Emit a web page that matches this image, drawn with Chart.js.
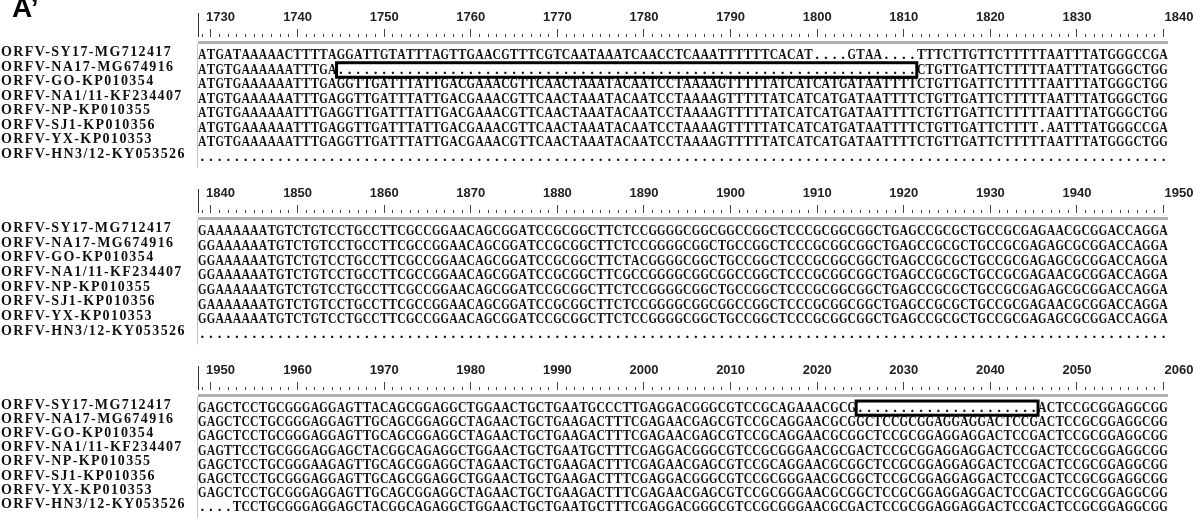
<!DOCTYPE html>
<html>
<head>
<meta charset="utf-8">
<script src="https://cdn.jsdelivr.net/npm/chart.js@4.4.1/dist/chart.umd.min.js"></script>
<style>
  html, body { margin: 0; padding: 0; background: #ffffff; }
  #wrap { position: relative; width: 1203px; height: 526px; overflow: hidden; background: #ffffff; }
  canvas { position: absolute; left: 0; }
  #tag { position: absolute; left: 12px; top: -6px; font: bold 28px "Liberation Sans", Arial, sans-serif; line-height: 28px; color: #000; }
</style>
</head>
<body>
<div id="wrap">
  <canvas id="c0" width="1203" height="176" style="top:0px"></canvas>
  <canvas id="c1" width="1203" height="177" style="top:176px"></canvas>
  <canvas id="c2" width="1203" height="173" style="top:353px"></canvas>
  <div id="tag">A’</div>
</div>
<script>
// ---------------- data ----------------
const rowNames = [
  "ORFV-SY17-MG712417",
  "ORFV-NA17-MG674916",
  "ORFV-GO-KP010354",
  "ORFV-NA1/11-KF234407",
  "ORFV-NP-KP010355",
  "ORFV-SJ1-KP010356",
  "ORFV-YX-KP010353",
  "ORFV-HN3/12-KY053526"
];
const blockStarts = [1730, 1840, 1950];      // first labelled ruler position of each block
const rulerLabels = [
  [1730, 1740, 1750, 1760, 1770, 1780, 1790, 1800, 1810, 1820, 1830, 1840],
  [1840, 1850, 1860, 1870, 1880, 1890, 1900, 1910, 1920, 1930, 1940, 1950],
  [1950, 1960, 1970, 1980, 1990, 2000, 2010, 2020, 2030, 2040, 2050, 2060]
];
const gap = n => ".".repeat(n);   // alignment gap characters

const seqBlock1 = [
  "ATGATA" + "AAAACTTTTAGGATTGTATTTAGTTGAACGTTTCGTCA" + "ATAAATCAACCTCAAATTTTTTCACAT" + "....GTAA" + "...." + "TTTCTTGTTCTTTTTAATTTATGGGCCGA",
  "ATGTGAAAAAATTTGA" + gap(67) + "CTGTTGATTCTTTTTAATTTATGGGCTGG",
  "ATGTGA" + "AAAAATTTGAGGTTGATTTATTGACGAAACGTTCAACT" + "AAATACAATCCTAAAAGTTTTTATCATCATGATAATT" + "TT" + "CTGTTGATTCTTTTTAATTTATGGGCTGG",
  "ATGTGA" + "AAAAATTTGAGGTTGATTTATTGACGAAACGTTCAACT" + "AAATACAATCCTAAAAGTTTTTATCATCATGATAATT" + "TT" + "CTGTTGATTCTTTTTAATTTATGGGCTGG",
  "ATGTGA" + "AAAAATTTGAGGTTGATTTATTGACGAAACGTTCAACT" + "AAATACAATCCTAAAAGTTTTTATCATCATGATAATT" + "TT" + "CTGTTGATTCTTTTTAATTTATGGGCTGG",
  "ATGTGA" + "AAAAATTTGAGGTTGATTTATTGACGAAACGTTCAACT" + "AAATACAATCCTAAAAGTTTTTATCATCATGATAATT" + "TT" + "CTGTTGATTCTTTT.AATTTATGGGCCGA",
  "ATGTGA" + "AAAAATTTGAGGTTGATTTATTGACGAAACGTTCAACT" + "AAATACAATCCTAAAAGTTTTTATCATCATGATAATT" + "TT" + "CTGTTGATTCTTTTTAATTTATGGGCTGG",
  gap(112)
];
const seqBlock2 = [
  "GAAAAAAA" + "TGTCTGTCCTGCCTTCGCCGGAACAGCGGATCCGCG" + "GCTTCTCCGGGGCGGCGGCCGGCTCCCGCGGCGGCTG" + "AGCCGCGCTGCCGCGAGAACGCGGACCAGGA",
  "GGAAAAAA" + "TGTCTGTCCTGCCTTCGCCGGAACAGCGGATCCGCG" + "GCTTCTCCGGGGCGGCTGCCGGCTCCCGCGGCGGCTG" + "AGCCGCGCTGCCGCGAGAGCGCGGACCAGGA",
  "GGAAAAAA" + "TGTCTGTCCTGCCTTCGCCGGAACAGCGGATCCGCG" + "GCTTCTACGGGGCGGCTGCCGGCTCCCGCGGCGGCTG" + "AGCCGCGCTGCCGCGAGAGCGCGGACCAGGA",
  "GGAAAAAA" + "TGTCTGTCCTGCCTTCGCCGGAACAGCGGATCCGCG" + "GCTTCGCCGGGGCGGCGGCCGGCTCCCGCGGCGGCTG" + "AGCCGCGCTGCCGCGAGAACGCGGACCAGGA",
  "GGAAAAAA" + "TGTCTGTCCTGCCTTCGCCGGAACAGCGGATCCGCG" + "GCTTCTCCGGGGCGGCTGCCGGCTCCCGCGGCGGCTG" + "AGCCGCGCTGCCGCGAGAGCGCGGACCAGGA",
  "GAAAAAAA" + "TGTCTGTCCTGCCTTCGCCGGAACAGCGGATCCGCG" + "GCTTCTCCGGGGCGGCGGCCGGCTCCCGCGGCGGCTG" + "AGCCGCGCTGCCGCGAGAACGCGGACCAGGA",
  "GGAAAAAA" + "TGTCTGTCCTGCCTTCGCCGGAACAGCGGATCCGCG" + "GCTTCTCCGGGGCGGCTGCCGGCTCCCGCGGCGGCTG" + "AGCCGCGCTGCCGCGAGAGCGCGGACCAGGA",
  gap(112)
];
const seqBlock3 = [
  "GAGCTC" + "CTGCGGGAGGAGTTACAGCGGAGGCTGGAACTGCTGAA" + "TGCCCTTGAGGACGGGCGTCCGCAGAAACGCG" + gap(21) + "ACTCCGCGGAGGCGG",
  "GAGCTC" + "CTGCGGGAGGAGTTGCAGCGGAGGCTAGAACTGCTGAA" + "GACTTTCGAGAACGAGCGTCCGCAGGAACGCGGCTCC" + "GCGGAGGAGGACTCCGACTCCGCGGAGGCGG",
  "GAGCTC" + "CTGCGGGAGGAGTTGCAGCGGAGGCTAGAACTGCTGAA" + "GACTTTCGAGAACGAGCGTCCGCAGGAACGCGGCTCC" + "GCGGAGGAGGACTCCGACTCCGCGGAGGCGG",
  "GAGTTC" + "CTGCGGGAGGAGCTACGGCAGAGGCTGGAACTGCTGAA" + "TGCTTTCGAGGACGGGCGTCCGCGGGAACGCGACTCC" + "GCGGAGGAGGACTCCGACTCCGCGGAGGCGG",
  "GAGCTC" + "CTGCGGGAAGAGTTGCAGCGGAGGCTAGAACTGCTGAA" + "GACTTTCGAGAACGAGCGTCCGCAGGAACGCGGCTCC" + "GCGGAGGAGGACTCCGACTCCGCGGAGGCGG",
  "GAGCTC" + "CTGCGGGAGGAGTTGCAGCGGAGGCTGGAACTGCTGAA" + "GACTTTCGAGGACGGGCGTCCGCGGGAACGCGGCTCC" + "GCGGAGGAGGACTCCGACTCCGCGGAGGCGG",
  "GAGCTC" + "CTGCGGGAGGAGTTGCAGCGGAGGCTAGAACTGCTGAA" + "GACTTTCGAGAACGAGCGTCCGCGGGAACGCGGCTCC" + "GCGGAGGAGGACTCCGACTCCGCGGAGGCGG",
  "....TC" + "CTGCGGGAGGAGCTACGGCAGAGGCTGGAACTGCTGAA" + "TGCTTTCGAGGACGGGCGTCCGCGGGAACGCGACTCC" + "GCGGAGGAGGACTCCGACTCCGCGGAGGCGG"
];
const seqBlocks = [seqBlock1, seqBlock2, seqBlock3];
// boxed deletion regions: block index, row index, first and last position inside the box
const gapBoxBlock = [0, 2];
const gapBoxRow   = [1, 0];
const gapBoxFrom  = [1745, 2025];
const gapBoxTo    = [1811, 2045];

// ---------------- custom scales ----------------
class SeqLabelScale extends Chart.LinearScale {
  drawLabels(area) {
    const c = this.ctx;
    c.save();
    c.letterSpacing = '1.4px';
    super.drawLabels(area);
    c.restore();
  }
}
SeqLabelScale.id = 'seqLabels';
SeqLabelScale.defaults = Chart.LinearScale.defaults;

// ruler: first label starts just right of the panel edge, last label runs past its tick
class RulerScale extends Chart.LinearScale {
  _computeLabelItems(area) {
    const items = super._computeLabelItems(area);
    const shown = items.filter(it => it.label !== '' && it.label != null);
    if (shown.length) {
      const first = shown[0], last = shown[shown.length - 1];
      first.options.textAlign = 'left';
      first.options.translation = [first.options.translation[0] - 5, first.options.translation[1]];
      last.options.textAlign = 'left';
      last.options.translation = [last.options.translation[0] + 1, last.options.translation[1]];
    }
    return items;
  }
}
RulerScale.id = 'ruler';
RulerScale.defaults = Chart.LinearScale.defaults;
Chart.register(SeqLabelScale, RulerScale);

const seqPlugin = {
  id: 'seqText',
  beforeDatasetsDraw(chart) {
    const ctx = chart.ctx, a = chart.chartArea;
    ctx.save();
    ctx.fillStyle = '#b0b0b0';
    ctx.fillRect(a.left, a.top + 4, a.right - a.left, 3);
    ctx.strokeStyle = '#333';
    ctx.lineWidth = 1;
    ctx.beginPath();
    ctx.moveTo(a.left + 0.5, a.top - 24);
    ctx.lineTo(a.left + 0.5, a.top);
    ctx.stroke();
    ctx.strokeStyle = '#c4c4c4';
    ctx.beginPath();
    ctx.moveTo(a.left - 0.5, a.top + 7);
    ctx.lineTo(a.left - 0.5, a.bottom);
    ctx.stroke();
    ctx.restore();
  },
  afterDatasetsDraw(chart, args, opts) {
    const ctx = chart.ctx;
    const xs = chart.scales.x, ys = chart.scales.y;
    const pitch = xs.getPixelForValue(1) - xs.getPixelForValue(0);
    ctx.save();
    ctx.font = 'bold 15px "Liberation Serif", "Times New Roman", serif';
    ctx.textAlign = 'center';
    ctx.textBaseline = 'middle';
    ctx.fillStyle = '#111';
    chart.data.datasets.forEach((ds, d) => {
      chart.getDatasetMeta(d).data.forEach((el, j) => {
        ctx.fillText(ds.data[j].ch, el.x, el.y + 3, pitch - 0.2);
      });
    });
    ctx.strokeStyle = '#000';
    ctx.lineWidth = 3;
    gapBoxBlock.forEach((b, k) => {
      if (b !== opts.block) return;
      const x0 = xs.getPixelForValue(gapBoxFrom[k] - 0.5);
      const x1 = xs.getPixelForValue(gapBoxTo[k] + 0.5);
      const y0 = ys.getPixelForValue(gapBoxRow[k] - 0.5) + 3;
      const y1 = ys.getPixelForValue(gapBoxRow[k] + 0.5) + 3;
      ctx.strokeRect(x0, y0, x1 - x0, y1 - y0);
    });
    ctx.restore();
  }
};

const PITCH = 8.66;
const COLS = 112;
const AREA_LEFT = 198, AXIS_H = 37, AREA_H = 135, ROW_H = 15;
const AREA_RIGHT = Math.round(AREA_LEFT + COLS * PITCH);
const canvasHeights = [176, 177, 173];

seqBlocks.forEach((rows, b) => {
  const start = blockStarts[b];
  const xMin = start - 1.5;
  const xMax = xMin + (AREA_RIGHT - AREA_LEFT) / PITCH;
  const yMin = -16 / ROW_H;
  const yMax = yMin + AREA_H / ROW_H;
  const labels = rulerLabels[b];
  new Chart(document.getElementById('c' + b), {
    type: 'scatter',
    data: {
      datasets: rows.map((s, r) => ({
        label: rowNames[r],
        data: s.split('').map((ch, i) => ({ x: start - 1 + i, y: r, ch: ch })),
        pointRadius: 0,
        pointHoverRadius: 0,
        showLine: false
      }))
    },
    options: {
      responsive: false,
      animation: false,
      events: [],
      layout: { padding: { left: 1, right: 1203 - AREA_RIGHT, top: 0, bottom: canvasHeights[b] - AXIS_H - AREA_H } },
      plugins: { legend: { display: false }, tooltip: { enabled: false }, seqText: { block: b } },
      scales: {
        x: {
          type: 'ruler',
          position: 'top',
          bounds: 'data',
          min: xMin,
          max: xMax,
          afterFit: s => { s.height = AXIS_H; },
          afterBuildTicks: s => {
            const t = [];
            for (let v = Math.ceil(xMin); v <= Math.floor(xMax); v++) t.push({ value: v });
            s.ticks = t;
          },
          grid: {
            drawOnChartArea: false,
            drawTicks: true,
            tickLength: 8,
            tickWidth: 1,
            tickColor: '#444',
            tickBorderDash: c => (labels.includes(c.tick && c.tick.value) ? [] : [0, 5, 3, 50])
          },
          border: { display: false },
          ticks: {
            autoSkip: false,
            maxRotation: 0,
            minRotation: 0,
            padding: 4,
            color: '#222',
            font: { family: '"Liberation Sans", Arial, sans-serif', size: 13, weight: 'bold' },
            callback: v => (labels.includes(v) ? String(v) : '')
          }
        },
        y: {
          type: 'seqLabels',
          reverse: true,
          bounds: 'data',
          min: yMin,
          max: yMax,
          afterFit: s => { s.width = AREA_LEFT - 1; },
          afterBuildTicks: s => { s.ticks = rowNames.map((n, i) => ({ value: i })); },
          grid: { display: false },
          border: { display: false },
          ticks: {
            autoSkip: false,
            crossAlign: 'far',
            padding: 0,
            color: '#111',
            font: { family: '"Liberation Serif", "Times New Roman", serif', size: 14, weight: 'bold' },
            callback: v => rowNames[v]
          }
        }
      }
    },
    plugins: [seqPlugin]
  });
});
</script>
</body>
</html>
